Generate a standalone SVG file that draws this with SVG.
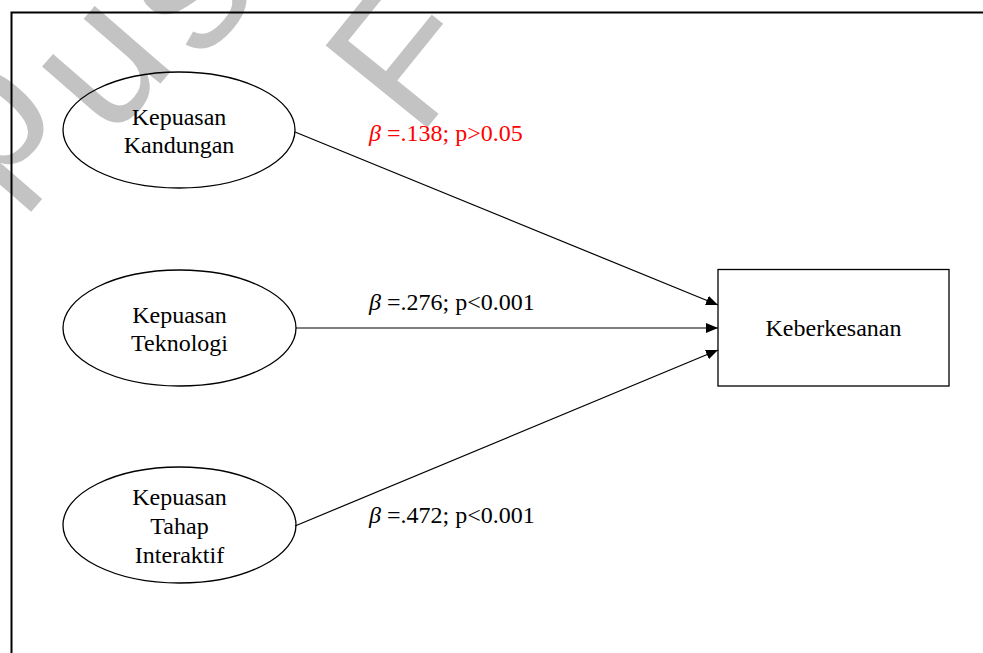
<svg xmlns="http://www.w3.org/2000/svg" width="983" height="653" viewBox="0 0 983 653">
<style>
.wm{font-family:"Liberation Sans",Arial,sans-serif;font-size:190px;fill:#c3c3c3}
.node ellipse,.node rect{fill:none;stroke:#000;stroke-width:1.3}
.lbl{font-family:"Liberation Serif","Times New Roman",serif;font-size:24px;fill:#000}
.red{fill:#ff0000}
.edge{stroke:#000;stroke-width:1.2;fill:none;marker-end:url(#arr)}
.c{text-anchor:middle}
</style>
<defs>
<marker id="arr" viewBox="0 0 12 10" refX="12" refY="5" markerWidth="12" markerHeight="10" markerUnits="userSpaceOnUse" orient="auto">
<path d="M0,0 L12,5 L0,10 z" fill="#000"/>
</marker>
</defs>
<rect width="983" height="653" fill="#fff"/>
<g id="watermark">
<text class="wm" transform="translate(103.8,136.6) rotate(-49)" x="-117 0 118" y="-45 8 25">pus</text>
<text class="wm" transform="translate(417.6,139.7) rotate(-51)">F</text>
</g>
<path d="M11.5,653 V12.5 H983" fill="none" stroke="#000" stroke-width="2"/>
<g id="connectors">
<line class="edge" x1="295" y1="132" x2="718" y2="305"/>
<line class="edge" x1="296" y1="328" x2="718" y2="328"/>
<line class="edge" x1="295" y1="526" x2="718" y2="350"/>
</g>
<g id="labels">
<text class="lbl red" x="369" y="141"><tspan font-style="italic">β</tspan> =.138; p&gt;0.05</text>
<text class="lbl" x="369" y="310"><tspan font-style="italic">β</tspan> =.276; p&lt;0.001</text>
<text class="lbl" x="369" y="523"><tspan font-style="italic">β</tspan> =.472; p&lt;0.001</text>
</g>
<g id="n1" class="node">
<ellipse cx="179" cy="130" rx="116" ry="58"/>
<text class="lbl c" x="179" y="125">Kepuasan</text>
<text class="lbl c" x="179" y="153">Kandungan</text>
</g>
<g id="n2" class="node">
<ellipse cx="179.5" cy="328" rx="116.5" ry="58"/>
<text class="lbl c" x="179.5" y="323">Kepuasan</text>
<text class="lbl c" x="179.5" y="351">Teknologi</text>
</g>
<g id="n3" class="node">
<ellipse cx="179.5" cy="525" rx="116.5" ry="58"/>
<text class="lbl c" x="179.5" y="505">Kepuasan</text>
<text class="lbl c" x="179.5" y="534">Tahap</text>
<text class="lbl c" x="179.5" y="563">Interaktif</text>
</g>
<g id="n4" class="node">
<rect x="718" y="269.5" width="231" height="116.5"/>
<text class="lbl c" x="833.5" y="336">Keberkesanan</text>
</g>
</svg>
